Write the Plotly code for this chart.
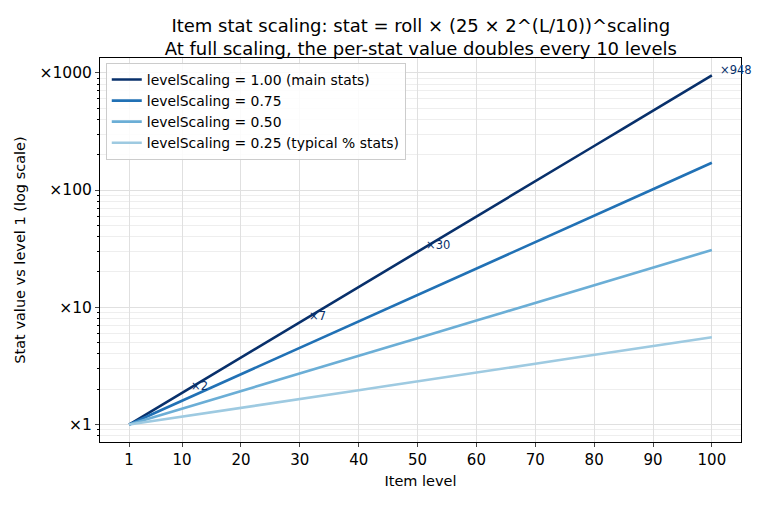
import math
import plotly.graph_objects as go

# ---- data ----
levels = [1, 5, 10, 11, 15, 20, 25, 30, 31, 35, 40, 45, 50, 51, 55, 60, 65, 70, 75, 80, 85, 90, 95, 100]
scaling_100 = [1.0, 1.32, 1.87, 2.0, 2.64, 3.73, 5.27, 7.45, 7.98, 10.5, 14.9, 21.0, 29.7, 31.9,
               42.0, 59.4, 84.0, 118.8, 167.9, 237.4, 335.6, 474.4, 670.6, 948.0]
scaling_075 = [1.0, 1.23, 1.60, 1.68, 2.07, 2.68, 3.48, 4.51, 4.75, 5.85, 7.58, 9.82, 12.7, 13.4,
               16.5, 21.4, 27.8, 36.0, 46.7, 60.5, 78.4, 101.6, 131.8, 170.9]
scaling_050 = [1.0, 1.15, 1.37, 1.41, 1.62, 1.93, 2.30, 2.73, 2.82, 3.25, 3.86, 4.59, 5.45, 5.65,
               6.48, 7.71, 9.17, 10.9, 13.0, 15.4, 18.3, 21.8, 25.9, 30.8]
scaling_025 = [1.0, 1.07, 1.17, 1.19, 1.27, 1.39, 1.52, 1.65, 1.68, 1.80, 1.96, 2.14, 2.34, 2.38,
               2.55, 2.78, 3.03, 3.30, 3.60, 3.93, 4.28, 4.67, 5.09, 5.55]
series_names = ["levelScaling = 1.00 (main stats)", "levelScaling = 0.75",
                "levelScaling = 0.50", "levelScaling = 0.25 (typical % stats)"]
series_colors = ["#08306b", "#2171b5", "#6baed6", "#9ecae1"]

annot_levels = [11, 31, 51, 100]
annot_labels = ["×2", "×7", "×30", "×948"]
annot_xshift = [1, 1, 1, 6]
annot_yshift = [3, 3, 3, 5]

x_ticks = [1, 10, 20, 30, 40, 50, 60, 70, 80, 90, 100]
y_ticks = [1, 10, 100, 1000]
y_ticktext = ["×1", "×10", "×100", "×1000"]
y_minor = [m * d for d in (0.1, 1, 10, 100, 1000) for m in range(2, 10)]

FONT = "DejaVu Sans"

fig = go.Figure()
for vals, name, col in zip([scaling_100, scaling_075, scaling_050, scaling_025], series_names, series_colors):
    fig.add_trace(go.Scatter(x=levels, y=vals, mode="lines", name=name,
                             line=dict(color=col, width=2.6)))

for lv, lab, xs, ys in zip(annot_levels, annot_labels, annot_xshift, annot_yshift):
    fig.add_annotation(x=lv, y=math.log10(scaling_100[levels.index(lv)]),
                       text=lab, showarrow=False, xanchor="left", yanchor="middle",
                       xshift=xs, yshift=ys, font=dict(family=FONT, size=11.5, color="#08306b"))

fig.update_layout(
    width=770, height=505,
    margin=dict(l=100, r=29, t=58, b=63),
    paper_bgcolor="white", plot_bgcolor="white",
    font=dict(family=FONT, size=14, color="black"),
    title=dict(text="Item stat scaling: stat = roll × (25 × 2^(L/10))^scaling<br>At full scaling, the per-stat value doubles every 10 levels",
               x=0.5465, xanchor="center", y=0.937, yanchor="top",
               font=dict(family=FONT, size=18)),
    legend=dict(x=0.009, y=0.987, xanchor="left", yanchor="top",
                bgcolor="rgba(255,255,255,0.85)", bordercolor="#cccccc", borderwidth=1,
                font=dict(family=FONT, size=13.9), tracegroupgap=0, itemwidth=30),
    showlegend=True,
)
fig.update_xaxes(range=[-3.95, 104.95], tickvals=x_ticks, ticks="outside", ticklen=4,
                 showline=True, linecolor="black", linewidth=1, mirror=True,
                 showgrid=True, gridcolor="#e0e0e0", gridwidth=1, zeroline=False,
                 title=dict(text="Item level", font=dict(family=FONT, size=14.5), standoff=7),
                 tickfont=dict(family=FONT, size=15))
fig.update_yaxes(type="log", range=[-0.149, 3.126], tickvals=y_ticks, ticktext=y_ticktext,
                 ticks="outside", ticklen=4,
                 showline=True, linecolor="black", linewidth=1, mirror=True,
                 showgrid=True, gridcolor="#e0e0e0", gridwidth=1, zeroline=False,
                 minor=dict(tickvals=y_minor, ticks="outside", ticklen=2, showgrid=True,
                            gridcolor="#eeeeee", gridwidth=1, tickcolor="black"),
                 title=dict(text="Stat value vs level 1 (log scale)", font=dict(family=FONT, size=14.5), standoff=10),
                 tickfont=dict(family=FONT, size=15.5))

fig.write_html("out.html")
